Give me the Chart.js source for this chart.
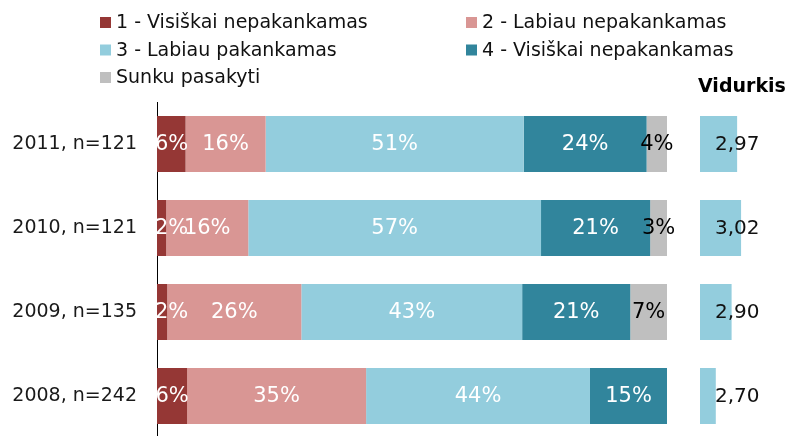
<!DOCTYPE html>
<html><head><meta charset="utf-8">
<script src="https://cdn.jsdelivr.net/npm/chart.js@4"></script>
<style>
html,body{margin:0;padding:0;overflow:hidden;background:#fff;width:790px;height:436px}
#wrap{position:relative;width:790px;height:436px;overflow:hidden}
canvas{position:absolute;left:0;top:0}
</style></head><body>
<div id="wrap">
<canvas id="main" width="790" height="440"></canvas>
<canvas id="avg" width="790" height="440"></canvas>
</div>
<script>
const categories = ['2011, n=121', '2010, n=121', '2009, n=135', '2008, n=242'];
const seriesNames = ['1 - Visiškai nepakankamas', '2 - Labiau nepakankamas', '3 - Labiau pakankamas', '4 - Visiškai nepakankamas', 'Sunku pasakyti'];
const s1 = [5.6, 1.8, 2.0, 5.9];
const s2 = [15.7, 16.1, 26.3, 35.1];
const s3 = [50.6, 57.4, 43.3, 43.9];
const s4 = [24.1, 21.4, 21.2, 15.1];
const s5 = [4.0, 3.3, 7.2, null];
const averages = [2.97, 3.02, 2.90, 2.70];
const avgTitle = 'Vidurkis';

const colors = ['#953735', '#d99694', '#93cddd', '#31859c', '#bfbfbf'];
const labelColors = ['#ffffff', '#ffffff', '#ffffff', '#ffffff', '#000000'];
const FONT = "'DejaVu Sans', Verdana, sans-serif";

const seriesData = [s1, s2, s3, s4, s5];
const datasets = seriesData.map((d, i) => ({
  label: seriesNames[i], data: d, backgroundColor: colors[i],
  categoryPercentage: 1, barPercentage: 0.667, borderWidth: 0
}));

const segLabels = {
  id: 'segLabels',
  afterDatasetsDraw(chart) {
    const ctx = chart.ctx;
    ctx.save();
    ctx.font = '21px ' + FONT;
    ctx.textBaseline = 'middle';
    ctx.textAlign = 'center';
    chart.data.datasets.forEach((ds, di) => {
      const meta = chart.getDatasetMeta(di);
      meta.data.forEach((bar, i) => {
        const v = ds.data[i];
        if (v == null || v === 0) return;
        const txt = Math.round(v) + '%';
        const w = ctx.measureText(txt).width;
        let x = (bar.x + bar.base) / 2;
        if (x - w / 2 < chart.chartArea.left - 2) x = chart.chartArea.left - 2 + w / 2;
        ctx.fillStyle = labelColors[di];
        ctx.fillText(txt, x, bar.y + 1);
      });
    });
    ctx.restore();
  }
};

const legendPlugin = {
  id: 'customLegend',
  afterDraw(chart) {
    const ctx = chart.ctx;
    ctx.save();
    ctx.font = '19px ' + FONT;
    ctx.textBaseline = 'middle';
    ctx.textAlign = 'left';
    const colX = [100, 466];
    chart.data.datasets.forEach((ds, i) => {
      const col = i % 2, row = Math.floor(i / 2);
      const cy = 22.5 + row * 27.5;
      ctx.fillStyle = ds.backgroundColor;
      ctx.fillRect(colX[col], cy - 5.5, 11, 11);
      ctx.fillStyle = '#111111';
      ctx.fillText(ds.label, colX[col] + 16, cy + 1);
    });
    ctx.restore();
  }
};

new Chart(document.getElementById('main'), {
  type: 'bar',
  data: { labels: categories, datasets: datasets },
  options: {
    indexAxis: 'y', responsive: false, animation: false,
    layout: { padding: { left: 0, right: 123, top: 102, bottom: 2 } },
    plugins: { legend: { display: false }, tooltip: { enabled: false } },
    scales: {
      x: { stacked: true, min: 0, max: 100, display: false },
      y: {
        stacked: true,
        grid: { display: false, drawTicks: false },
        border: { display: true, color: '#000000', width: 1 },
        ticks: { padding: 20, color: '#1a1a1a', font: { family: FONT, size: 19 } },
        afterFit(s) { s.width = 157; s.paddingTop = 0; s.paddingBottom = 0; }
      }
    }
  },
  plugins: [segLabels, legendPlugin]
});

const avgLabels = {
  id: 'avgLabels',
  afterDatasetsDraw(chart) {
    const ctx = chart.ctx;
    ctx.save();
    ctx.font = '20px ' + FONT;
    ctx.textBaseline = 'middle';
    ctx.textAlign = 'left';
    ctx.fillStyle = '#111111';
    const meta = chart.getDatasetMeta(0);
    meta.data.forEach((bar, i) => {
      const txt = averages[i].toFixed(2).replace('.', ',');
      ctx.fillText(txt, chart.chartArea.left + 15, bar.y + 1);
    });
    ctx.font = 'bold 19px ' + FONT;
    ctx.fillStyle = '#000000';
    ctx.fillText(avgTitle, chart.chartArea.left - 2, 87);
    ctx.restore();
  }
};

new Chart(document.getElementById('avg'), {
  type: 'bar',
  data: { labels: categories, datasets: [{ label: avgTitle, data: averages, backgroundColor: colors[2], categoryPercentage: 1, barPercentage: 0.667, borderWidth: 0 }] },
  options: {
    indexAxis: 'y', responsive: false, animation: false,
    layout: { padding: { left: 700, right: 11, top: 102, bottom: 2 } },
    plugins: { legend: { display: false }, tooltip: { enabled: false } },
    scales: {
      x: { min: 2.5, max: 3.5, display: false },
      y: { display: false }
    }
  },
  plugins: [avgLabels]
});
</script>
</body></html>
